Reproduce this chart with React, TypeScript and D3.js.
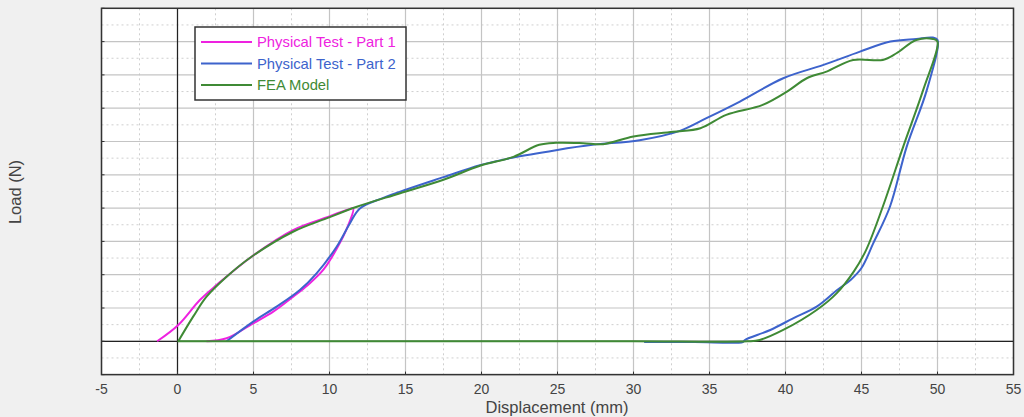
import React from "react";
import * as d3 from "d3";

// X: displacement (mm), Y: load (grid units, axis unlabeled)
const xTicks = [-5, 0, 5, 10, 15, 20, 25, 30, 35, 40, 45, 50, 55];

const part1X = [-1.34, 0.05, 1.47, 2.57, 4.87, 7.6, 9.8, 11.2, 11.56, 11.2, 10.5, 9.6, 8.6, 7.61, 6.3, 4.98, 3.23, 1.91];
const part1Y = [0, 0.49, 1.24, 1.69, 2.54, 3.34, 3.72, 3.95, 3.99, 3.45, 2.8, 2.15, 1.7, 1.34, 0.89, 0.54, 0.09, 0];

const part2X = [3.23, 4.98, 6.52, 8.05, 9.15, 10.47, 11.34, 12.0, 13.5, 15.07, 17.5, 19.9, 22.1, 24.9, 27.3, 30.4, 33.05, 34.8, 37.0, 39.85, 42.5, 44.9, 46.9, 48.6, 49.7, 50.0, 49.3, 47.97, 46.87, 45.77, 45.0, 44.3, 43.4, 42.05, 40.5, 39.0, 37.33, 37.2, 34.0, 30.7];
const part2Y = [0, 0.59, 1.04, 1.54, 2.04, 2.84, 3.54, 3.99, 4.3, 4.56, 4.93, 5.29, 5.52, 5.74, 5.9, 6.04, 6.32, 6.7, 7.2, 7.9, 8.3, 8.7, 9.0, 9.08, 9.12, 9.05, 7.55, 5.84, 4.04, 2.94, 2.2, 1.85, 1.54, 1.04, 0.69, 0.34, 0.04, -0.02, -0.02, -0.02];

const feaX = [0.05, 1.03, 1.91, 3.23, 4.87, 7.6, 9.8, 11.8, 14.6, 17.5, 19.9, 22.1, 23.8, 24.9, 26.7, 28.0, 30.0, 32.6, 34.4, 36.1, 38.5, 40.1, 41.4, 42.7, 44.45, 46.4, 47.3, 48.6, 49.7, 50.0, 49.06, 47.74, 46.4, 45.3, 44.5, 43.36, 42.05, 39.85, 38.3, 37.5, 30, 20, 10, 0];
const feaY = [0, 0.74, 1.34, 1.94, 2.54, 3.29, 3.69, 4.04, 4.44, 4.85, 5.27, 5.54, 5.9, 5.96, 5.95, 5.92, 6.15, 6.29, 6.4, 6.8, 7.1, 7.5, 7.9, 8.1, 8.45, 8.45, 8.65, 9.05, 9.08, 9.0, 7.55, 5.84, 4.04, 2.74, 2.1, 1.44, 0.94, 0.34, 0.04, 0, 0, 0, 0, 0];

const seriesNames = ["Physical Test - Part 1", "Physical Test - Part 2", "FEA Model"];
const seriesColors = ["#ee22e0", "#3d63cc", "#3f8a35"];

const W = 1024, H = 417;
const M = { left: 101.5, right: 1013.5, top: 8.3, bottom: 374.6 };

export default function App() {
  const x = d3.scaleLinear().domain([-5, 55]).range([M.left, M.right]);
  const y = d3.scaleLinear().domain([-1, 10]).range([M.bottom, M.top]);
  const line = d3
    .line<[number, number]>()
    .x((d) => x(d[0]))
    .y((d) => y(d[1]))
    .curve(d3.curveCatmullRom.alpha(0.5));

  const series = [
    part1X.map((v, i) => [v, part1Y[i]] as [number, number]),
    part2X.map((v, i) => [v, part2Y[i]] as [number, number]),
    feaX.map((v, i) => [v, feaY[i]] as [number, number]),
  ];

  const majorX = d3.range(-5, 55.01, 5);
  const minorX = d3.range(-2.5, 55, 5);
  const majorY = d3.range(-1, 10.01, 1);
  const minorY = d3.range(-0.5, 10, 1);
  const font = "'Liberation Sans', Arial, sans-serif";

  return (
    <svg width={W} height={H} style={{ position: "absolute", left: 0, top: 0, background: "#f0f0f0" }}>
      <rect x={M.left} y={M.top} width={M.right - M.left} height={M.bottom - M.top} fill="#ffffff" />
      {minorX.map((v) => (
        <line key={"mx" + v} x1={x(v)} x2={x(v)} y1={M.top} y2={M.bottom} stroke="#cfcfcf" strokeDasharray="2,3" />
      ))}
      {minorY.map((v) => (
        <line key={"my" + v} x1={M.left} x2={M.right} y1={y(v)} y2={y(v)} stroke="#cfcfcf" strokeDasharray="2,3" />
      ))}
      {majorX.map((v) => (
        <line key={"gx" + v} x1={x(v)} x2={x(v)} y1={M.top} y2={M.bottom} stroke="#c4c4c4" strokeWidth={1.2} />
      ))}
      {majorY.map((v) => (
        <line key={"gy" + v} x1={M.left} x2={M.right} y1={y(v)} y2={y(v)} stroke="#c4c4c4" strokeWidth={1.2} />
      ))}
      <line x1={x(0)} x2={x(0)} y1={M.top} y2={M.bottom} stroke="#222" strokeWidth={1.2} />
      <line x1={M.left} x2={M.right} y1={y(0)} y2={y(0)} stroke="#222" strokeWidth={1.2} />
      {majorY.map((v) => (
        <line key={"ty" + v} x1={M.left} x2={M.left + 3} y1={y(v)} y2={y(v)} stroke="#333" />
      ))}
      {majorX.map((v) => (
        <line key={"tx" + v} x1={x(v)} x2={x(v)} y1={M.bottom} y2={M.bottom - 3} stroke="#333" />
      ))}
      {series.map((s, i) => (
        <path key={"s" + i} d={line(s) || ""} fill="none" stroke={seriesColors[i]} strokeWidth={2} strokeLinejoin="round" />
      ))}
      <rect x={M.left} y={M.top} width={M.right - M.left} height={M.bottom - M.top} fill="none" stroke="#333" strokeWidth={1.5} />
      {xTicks.map((v) => (
        <text key={"lx" + v} x={x(v)} y={394} textAnchor="middle" fontFamily={font} fontSize={14} fill="#444">
          {v}
        </text>
      ))}
      <text x={557} y={413} textAnchor="middle" fontFamily={font} fontSize={16.5} fill="#444">
        Displacement (mm)
      </text>
      <text transform="translate(21,192) rotate(-90)" textAnchor="middle" fontFamily={font} fontSize={16.5} fill="#444">
        Load (N)
      </text>
      <rect x={195} y={27} width={211} height={73} fill="#ffffff" stroke="#333" strokeWidth={1.5} />
      {seriesNames.map((n, i) => (
        <g key={"lg" + i} transform={`translate(0, ${42 + i * 21.5})`}>
          <line x1={201} x2={252} y1={0} y2={0} stroke={seriesColors[i]} strokeWidth={2} />
          <text x={257} y={5} fontFamily={font} fontSize={14.8} fill={seriesColors[i]}>
            {n}
          </text>
        </g>
      ))}
    </svg>
  );
}
